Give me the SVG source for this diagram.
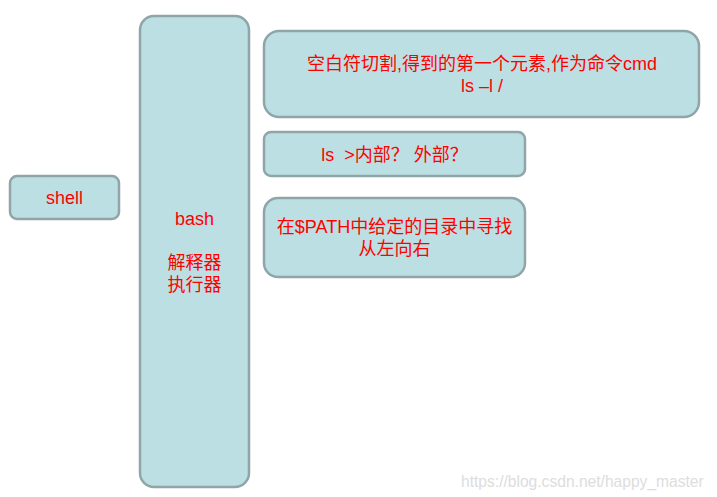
<svg xmlns="http://www.w3.org/2000/svg" width="717" height="497" viewBox="0 0 717 497">
<style>
.box{fill:#BBDFE2;stroke:#8FA5A7;stroke-width:2.5}
.t{font-family:"Liberation Sans","Noto Sans CJK SC",sans-serif;font-size:18px;fill:#FF0000;text-anchor:middle}
.wm{font-family:"Liberation Sans",sans-serif;font-size:15.6px;fill:#DDDDDD}
</style>
<rect width="717" height="497" fill="#FFFFFF"/>
<g id="shell"><rect class="box" x="10" y="176" width="109" height="43" rx="7"/><text class="t" x="64.5" y="204">shell</text></g>
<g id="bash"><rect class="box" x="140" y="16" width="109" height="471" rx="14"/><text class="t" x="194.5" y="225">bash</text><text class="t" x="194.5" y="269">解释器</text><text class="t" x="194.5" y="291">执行器</text></g>
<g id="split"><rect class="box" x="264" y="31" width="435" height="86" rx="15"/><text class="t" x="482" y="70">空白符切割,得到的第一个元素,作为命令cmd</text><text class="t" x="482" y="92">ls –l /</text></g>
<g id="inner"><rect class="box" x="264" y="132" width="261" height="44" rx="7"/><text class="t" x="394.5" y="161" xml:space="preserve">ls  &gt;内部？ 外部？</text></g>
<g id="path"><rect class="box" x="264" y="198" width="261" height="79" rx="14"/><text class="t" x="394.5" y="233">在$PATH中给定的目录中寻找</text><text class="t" x="394.5" y="255">从左向右</text></g>
<g id="connectors"></g>
<text class="wm" x="461" y="487">https://blog.csdn.net/happy_master</text>
</svg>
